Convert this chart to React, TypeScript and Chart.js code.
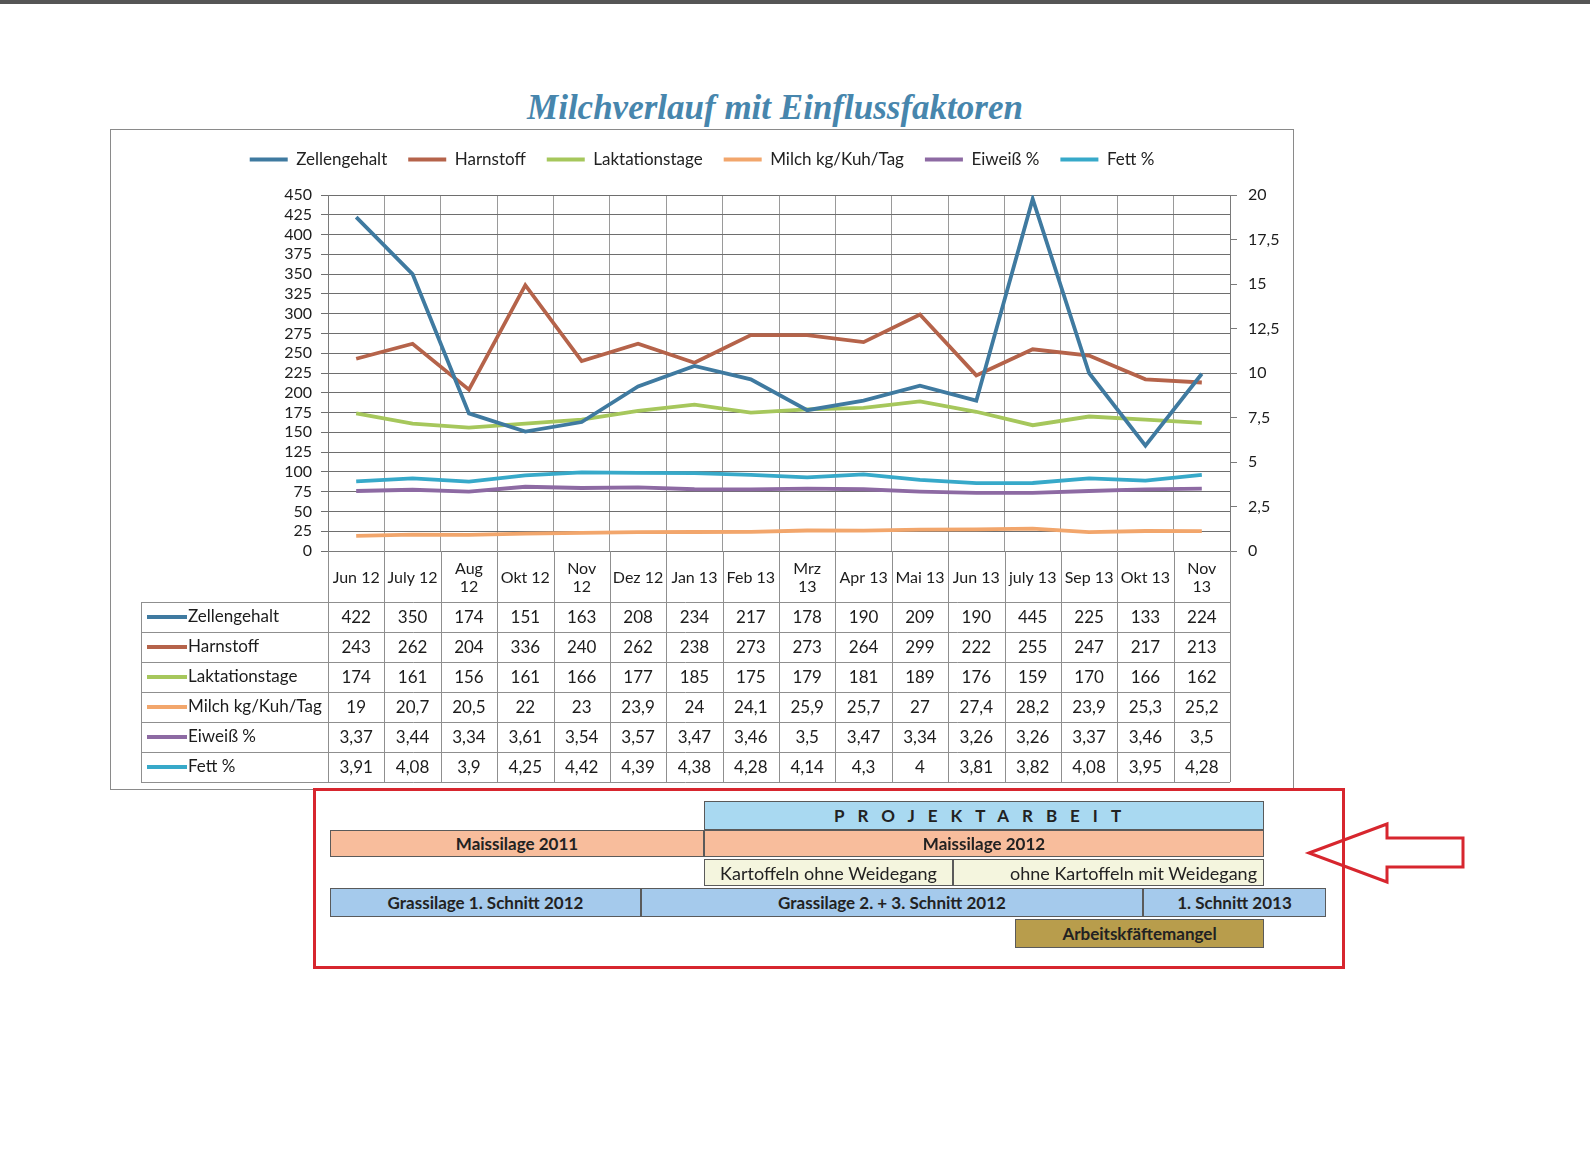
import React, { useEffect, useRef } from 'react';
import { Chart, registerables } from 'chart.js';

Chart.register(...registerables);

const CATEGORIES: (string | string[])[] = [
  'Jun 12', 'July 12', ['Aug', '12'], 'Okt 12', ['Nov', '12'], 'Dez 12', 'Jan 13', 'Feb 13',
  ['Mrz', '13'], 'Apr 13', 'Mai 13', 'Jun 13', 'july 13', 'Sep 13', 'Okt 13', ['Nov', '13'],
];

const ZELLENGEHALT = [422, 350, 174, 151, 163, 208, 234, 217, 178, 190, 209, 190, 445, 225, 133, 224];
const HARNSTOFF = [243, 262, 204, 336, 240, 262, 238, 273, 273, 264, 299, 222, 255, 247, 217, 213];
const LAKTATIONSTAGE = [174, 161, 156, 161, 166, 177, 185, 175, 179, 181, 189, 176, 159, 170, 166, 162];
const MILCH = [19, 20.7, 20.5, 22, 23, 23.9, 24, 24.1, 25.9, 25.7, 27, 27.4, 28.2, 23.9, 25.3, 25.2];
const EIWEISS = [3.37, 3.44, 3.34, 3.61, 3.54, 3.57, 3.47, 3.46, 3.5, 3.47, 3.34, 3.26, 3.26, 3.37, 3.46, 3.5];
const FETT = [3.91, 4.08, 3.9, 4.25, 4.42, 4.39, 4.38, 4.28, 4.14, 4.3, 4, 3.81, 3.82, 4.08, 3.95, 4.28];

const LEFT_AXIS = { min: 0, max: 450, step: 25 };
const RIGHT_AXIS = { min: 0, max: 20, step: 2.5 };

const SERIES = [
  { label: 'Zellengehalt', values: ZELLENGEHALT, color: '#3f7aa0', axis: 'y' },
  { label: 'Harnstoff', values: HARNSTOFF, color: '#b5634a', axis: 'y' },
  { label: 'Laktationstage', values: LAKTATIONSTAGE, color: '#a6c75c', axis: 'y' },
  { label: 'Milch kg/Kuh/Tag', values: MILCH, color: '#f2a66c', axis: 'y' },
  { label: 'Eiweiß %', values: EIWEISS, color: '#8d6aa3', axis: 'y1' },
  { label: 'Fett %', values: FETT, color: '#37a9c9', axis: 'y1' },
];

const HEADER_H = 51;
const ROW_H = 30;
const FONT = 'Lato';

const fmt = (v: number) => String(v).replace('.', ',');

const tablePlugin = {
  id: 'dataTable',
  afterDraw(chart: any) {
    const { ctx, chartArea: area } = chart;
    const xs = chart.scales.x;
    const n = CATEGORIES.length;
    const step = xs.getPixelForValue(1) - xs.getPixelForValue(0);
    const edges: number[] = [];
    for (let i = 0; i <= n; i++) edges.push(xs.getPixelForValue(0) - step / 2 + i * step);
    const top = area.bottom;
    const headBottom = top + HEADER_H;
    const bottom = headBottom + ROW_H * SERIES.length;
    const labelLeft = 30;
    const line = (x1: number, y1: number, x2: number, y2: number) => {
      ctx.beginPath();
      ctx.moveTo(x1, y1);
      ctx.lineTo(x2, y2);
      ctx.stroke();
    };
    ctx.save();
    ctx.strokeStyle = '#8f8f8f';
    ctx.lineWidth = 1;
    edges.forEach((x) => line(Math.round(x) + 0.5, top, Math.round(x) + 0.5, bottom));
    line(labelLeft + 0.5, headBottom, labelLeft + 0.5, bottom);
    for (let r = 0; r <= SERIES.length; r++) {
      const y = Math.round(headBottom + r * ROW_H) + 0.5;
      line(labelLeft, y, edges[n], y);
    }
    SERIES.forEach((s, r) => {
      const cy = headBottom + r * ROW_H + ROW_H / 2;
      ctx.strokeStyle = s.color;
      ctx.lineWidth = 4;
      line(36, cy, 76, cy);
      ctx.fillStyle = '#1c1c1c';
      ctx.font = `17px ${FONT}`;
      ctx.textAlign = 'left';
      ctx.textBaseline = 'middle';
      ctx.fillText(s.label, 77, cy);
      ctx.font = `17px ${FONT}`;
      ctx.textAlign = 'center';
      s.values.forEach((v, i) => {
        ctx.fillText(fmt(v), (edges[i] + edges[i + 1]) / 2, cy + 1);
      });
    });
    ctx.restore();
  },
};

const legendSpacer = {
  id: 'legendSpacer',
  beforeLayout(chart: any) {
    const lg = chart.legend;
    if (lg && !lg.__patched) {
      const orig = lg.fit;
      lg.fit = function () {
        orig.call(this);
        this.height = 65;
      };
      lg.__patched = true;
    }
  },
};

function MilkChart() {
  const ref = useRef<HTMLCanvasElement>(null);
  useEffect(() => {
    const chart = new Chart(ref.current as HTMLCanvasElement, {
      type: 'line',
      data: {
        labels: CATEGORIES as any,
        datasets: SERIES.map((s) => ({
          label: s.label,
          data: s.values,
          borderColor: s.color,
          backgroundColor: s.color,
          borderWidth: 3.8,
          pointRadius: 0,
          tension: 0,
          yAxisID: s.axis,
        })),
      },
      options: {
        animation: false,
        responsive: false,
        devicePixelRatio: 1,
        layout: { padding: { top: 0, left: 0, right: 0, bottom: 7 } },
        plugins: {
          legend: {
            display: true,
            position: 'top',
            labels: {
              usePointStyle: true,
              pointStyle: 'line',
              pointStyleWidth: 38,
              padding: 21,
              color: '#222',
              font: { family: FONT, size: 17 },
            },
          },
          tooltip: { enabled: false },
        },
        scales: {
          x: {
            offset: true,
            afterFit: (scale: any) => { scale.height = HEADER_H + ROW_H * SERIES.length; },
            grid: { offset: true, color: '#9a9a9a', drawTicks: false, lineWidth: 1 },
            border: { display: true, color: '#7a7a7a' },
            ticks: {
              autoSkip: false,
              maxRotation: 0,
              minRotation: 0,
              crossAlign: 'center',
              padding: 18,
              color: '#1c1c1c',
              font: { family: FONT, size: 16, lineHeight: 1.1 },
            },
          },
          y: {
            position: 'left',
            min: LEFT_AXIS.min,
            max: LEFT_AXIS.max,
            afterFit: (scale: any) => { scale.width = 217; },
            grid: { color: '#6e6e6e', tickLength: 7, lineWidth: 1 },
            border: { display: true, color: '#7a7a7a' },
            ticks: {
              stepSize: LEFT_AXIS.step,
              autoSkip: false,
              padding: 9,
              color: '#1c1c1c',
              font: { family: FONT, size: 16 },
            },
          },
          y1: {
            position: 'right',
            min: RIGHT_AXIS.min,
            max: RIGHT_AXIS.max,
            afterFit: (scale: any) => { scale.width = 63; },
            grid: { drawOnChartArea: false, color: '#7a7a7a', tickLength: 7 },
            border: { display: true, color: '#7a7a7a' },
            ticks: {
              stepSize: RIGHT_AXIS.step,
              autoSkip: false,
              padding: 11,
              color: '#1c1c1c',
              font: { family: FONT, size: 16 },
              callback: (v: any) => fmt(Number(v)),
            },
          },
        },
      } as any,
      plugins: [tablePlugin, legendSpacer],
    });
    return () => chart.destroy();
  }, []);
  return <canvas ref={ref} width={1182} height={659} style={{ position: 'absolute', left: 0, top: 0 }} />;
}

type Bar = { text: string; x1: number; x2: number; y1: number; y2: number; bg: string; bold?: boolean; spacing?: number; align?: 'center' | 'flex-end' };

const BARS: Bar[] = [
  { text: 'PROJEKTARBEIT', x1: 704, x2: 1264, y1: 801, y2: 830, bg: '#a9d9f1', bold: true, spacing: 13 },
  { text: 'Maissilage 2011', x1: 330, x2: 704, y1: 830, y2: 857, bg: '#f8bd9c', bold: true },
  { text: 'Maissilage 2012', x1: 704, x2: 1264, y1: 830, y2: 857, bg: '#f8bd9c', bold: true },
  { text: 'Kartoffeln ohne Weidegang', x1: 704, x2: 953, y1: 859, y2: 886, bg: '#f4f5de' },
  { text: 'ohne Kartoffeln mit Weidegang', x1: 953, x2: 1264, y1: 859, y2: 886, bg: '#f4f5de', align: 'flex-end' },
  { text: 'Grassilage 1. Schnitt 2012', x1: 330, x2: 641, y1: 888, y2: 917, bg: '#a5caec', bold: true },
  { text: 'Grassilage 2. + 3. Schnitt 2012', x1: 641, x2: 1143, y1: 888, y2: 917, bg: '#a5caec', bold: true },
  { text: '1. Schnitt 2013', x1: 1143, x2: 1326, y1: 888, y2: 917, bg: '#a5caec', bold: true },
  { text: 'Arbeitskfäftemangel', x1: 1015, x2: 1264, y1: 919, y2: 948, bg: '#b89d4c', bold: true },
];

export default function App() {
  return (
    <div style={{ position: 'absolute', left: 0, top: 0, width: 1590, height: 1156, background: '#fff', overflow: 'hidden', fontFamily: FONT }}>
      <div style={{ position: 'absolute', left: 0, top: 0, width: 1590, height: 4, background: '#555' }} />
      <div style={{ position: 'absolute', left: 275, top: 88, width: 1000, textAlign: 'center', fontFamily: '"Liberation Serif", serif', fontStyle: 'italic', fontWeight: 'bold', fontSize: 35, color: '#4786ad', lineHeight: '40px' }}>
        Milchverlauf mit Einflussfaktoren
      </div>
      <div style={{ position: 'absolute', left: 110, top: 129, width: 1184, height: 661, boxSizing: 'border-box', border: '1px solid #8a8a8a' }}>
        <MilkChart />
      </div>
      <div style={{ position: 'absolute', left: 313, top: 788, width: 1032, height: 181, boxSizing: 'border-box', border: '3px solid #d7262e' }} />
      {BARS.map((b, i) => (
        <div key={i} style={{
          position: 'absolute', left: b.x1, top: b.y1, width: b.x2 - b.x1, height: b.y2 - b.y1,
          boxSizing: 'border-box', border: '1px solid #5a5a5a', background: b.bg,
          display: 'flex', alignItems: 'center', justifyContent: b.align || 'center',
          paddingRight: b.align ? 6 : 0,
          fontWeight: b.bold ? 'bold' : 'normal', fontSize: b.bold ? 17 : 18, color: '#222',
          letterSpacing: b.spacing ? b.spacing : 0, whiteSpace: 'nowrap',
        }}>
          {b.text}
        </div>
      ))}
      <svg style={{ position: 'absolute', left: 0, top: 0 }} width={1590} height={1156}>
        <polygon points="1309,853 1387,824 1387,838 1463,838 1463,867 1387,867 1387,882" fill="none" stroke="#d7262e" strokeWidth={3} />
      </svg>
    </div>
  );
}
